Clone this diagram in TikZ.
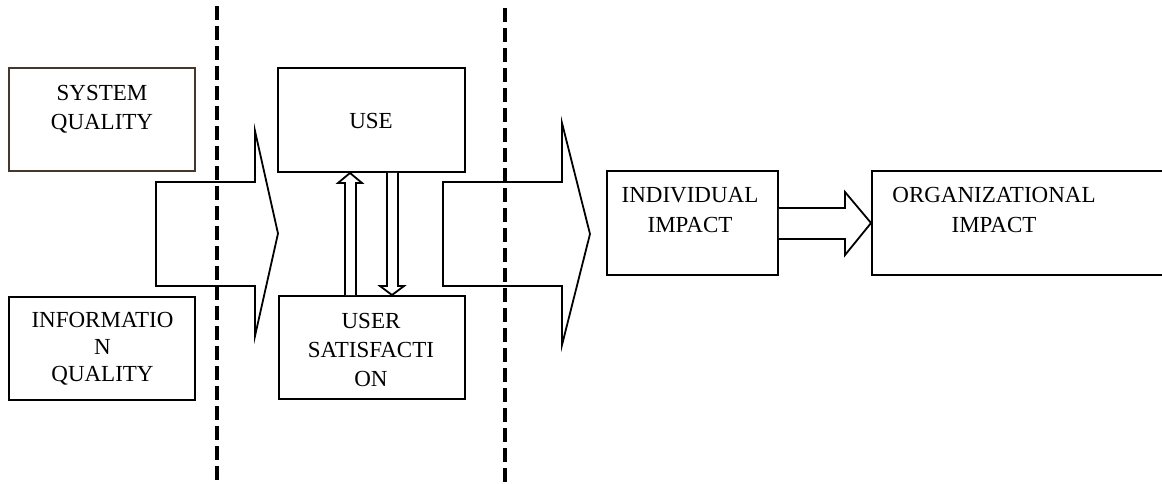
\documentclass[tikz,border=0pt]{standalone}
\usepackage{fontspec}
\setmainfont{Liberation Serif}
\begin{document}
\begin{tikzpicture}[x=1pt,y=-1pt,
  box/.style={draw=black, line width=1.9pt, rectangle, inner sep=0pt},
  lbl/.style={inner sep=0pt, anchor=north, align=center, font=\fontsize{23}{29}\selectfont},
  blockarrow/.style={draw=black, line width=1.8pt, fill=white, line join=miter},
  divider/.style={line width=4pt, dash pattern=on 14pt off 6pt}]
\useasboundingbox (0,0) rectangle (1162,483);
\begin{scope}
\clip (0,0) rectangle (1162,483);
% boxes
\node[box, draw={rgb,255:red,70;green,55;blue,45}, minimum width=186, minimum height=103] (sq) at (102,119.5) {};
\node[box, minimum width=186, minimum height=103] (iq) at (102,348.5) {};
\node[box, minimum width=187, minimum height=104] (use) at (371.5,120) {};
\node[box, minimum width=186, minimum height=103] (sat) at (372,347.5) {};
\node[box, minimum width=171, minimum height=104] (ind) at (692.5,223) {};
\node[box, minimum width=303, minimum height=104] (org) at (1023.5,223) {};
% texts
\node[lbl] (sqt) at (102,85) {SYSTEM\\QUALITY};
\node[lbl, font=\fontsize{23}{27}\selectfont] (iqt) at (102.5,312) {INFORMATIO\\N\\QUALITY};
\node[lbl, anchor=center] (uset) at (371,121) {USE};
\node[lbl] (satt) at (371,313) {USER\\SATISFACTI\\ON};
\node[lbl, font=\fontsize{23}{30}\selectfont] (indt) at (690,187) {INDIVIDUAL\\IMPACT};
\node[lbl, font=\fontsize{23}{30}\selectfont] (orgt) at (994,187) {ORGANIZATIONAL\\IMPACT};
% big block arrows
\draw[blockarrow] (156,182) -- (255,182) -- (255,131) -- (278,233.5) -- (255,336) -- (255,286) -- (156,286) -- cycle;
\draw[blockarrow] (443,182) -- (562,182) -- (562,123) -- (590,234) -- (562,345) -- (562,286) -- (443,286) -- cycle;
% up arrow sat -> use
\draw[blockarrow] (345,0 |- sat.north) -- (345,183) -- (338,183) -- (350,0 |- use.south) -- (362,183) -- (356,183) -- (356,0 |- sat.north);
% down arrow use -> sat
\draw[blockarrow] (387,0 |- use.south) -- (387,286) -- (380,286) -- (392,0 |- sat.north) -- (404,286) -- (398,286) -- (398,0 |- use.south);
% individual -> organizational
\draw[blockarrow] (ind.east |- 0,208) -- (845,208) -- (845,192) -- (org.west) -- (845,255) -- (845,239) -- (ind.east |- 0,239);
% dashed dividers
\coordinate (d1t) at (217,6);
\coordinate (d1b) at (217,483);
\coordinate (d2t) at (505,8);
\coordinate (d2b) at (505,483);
\draw[divider] (d1t) -- (d1b);
\draw[divider] (d2t) -- (d2b);
\end{scope}
\end{tikzpicture}
\end{document}
